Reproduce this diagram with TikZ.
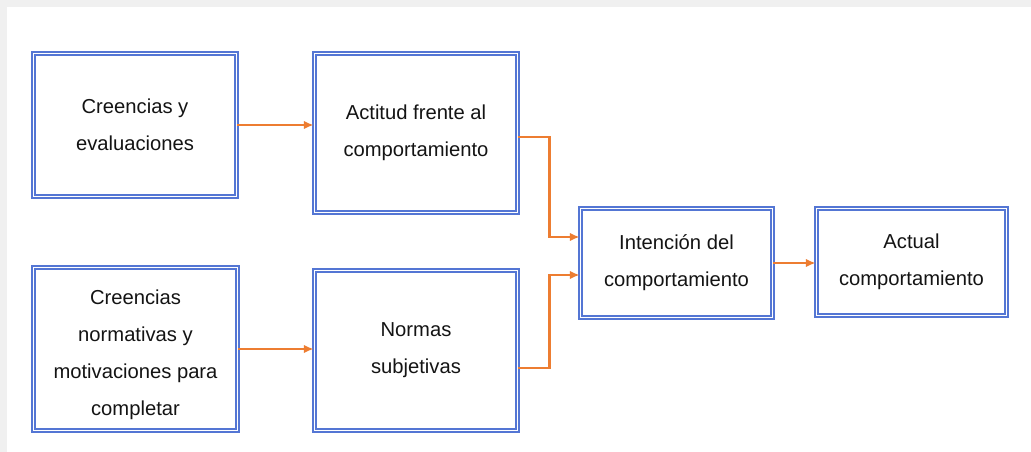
\documentclass[tikz,border=0pt]{standalone}
\usepackage{fontspec}
\setmainfont{Liberation Sans}
\usetikzlibrary{arrows.meta}

\definecolor{boxblue}{RGB}{84,118,212}
\definecolor{arrorange}{RGB}{237,125,49}

\tikzstyle{blk} = [draw=boxblue, double, double distance=1.1pt, line width=1.0pt,
                   text centered, align=center, inner sep=0pt, text=black!92]
\tikzstyle{con} = [->, draw=arrorange, line width=1.3pt]

\begin{document}
\begin{tikzpicture}[scale=1.0,
>={Latex[length=5.5pt,width=4.8pt]},
font=\fontsize{11.5}{21}\selectfont,
]

% Background
\fill[gray!12] (0,0) rectangle (20.62,9.04);
\fill[white] (0.14,0) rectangle (20.62,8.90);
\useasboundingbox (0,0) rectangle (20.62,9.04);

%CREENCIAS
\node[blk, minimum width=4.06cm, minimum height=2.86cm] (creencias) at (2.70,6.54)
     {Creencias y\\evaluaciones};

%ACTITUD
\node[blk, minimum width=4.06cm, minimum height=3.18cm] (actitud) at (8.32,6.38)
     {Actitud frente al\\comportamiento};

%NORMATIVAS
\node[blk, minimum width=4.08cm, minimum height=3.26cm] (normativas) at (2.71,2.06)
     {\\[-0.2cm]Creencias\\normativas y\\motivaciones para\\completar};

%NORMAS
\node[blk, minimum width=4.06cm, minimum height=3.20cm] (normas) at (8.32,2.03)
     {Normas\\subjetivas};

%INTENCION
\node[blk, minimum width=3.84cm, minimum height=2.18cm] (intencion) at (13.53,3.78)
     {Intención del\\comportamiento};

%ACTUAL
\node[blk, minimum width=3.80cm, minimum height=2.14cm] (actual) at (18.23,3.80)
     {Actual\\comportamiento};

% arrows
\draw[con] (creencias.east) -- (creencias.east -| actitud.west);
\draw[con] (normativas.east) -- (normativas.east -| normas.west);
\draw[con] ([yshift=-0.08cm]actitud.east) -- ++(0.62,0) |- ([yshift=0.52cm]intencion.west);
\draw[con] ([yshift=-0.35cm]normas.east) -- ++(0.62,0) |- ([yshift=-0.24cm]intencion.west);
\draw[con] (intencion.east) -- (intencion.east -| actual.west);

\end{tikzpicture}
\end{document}
